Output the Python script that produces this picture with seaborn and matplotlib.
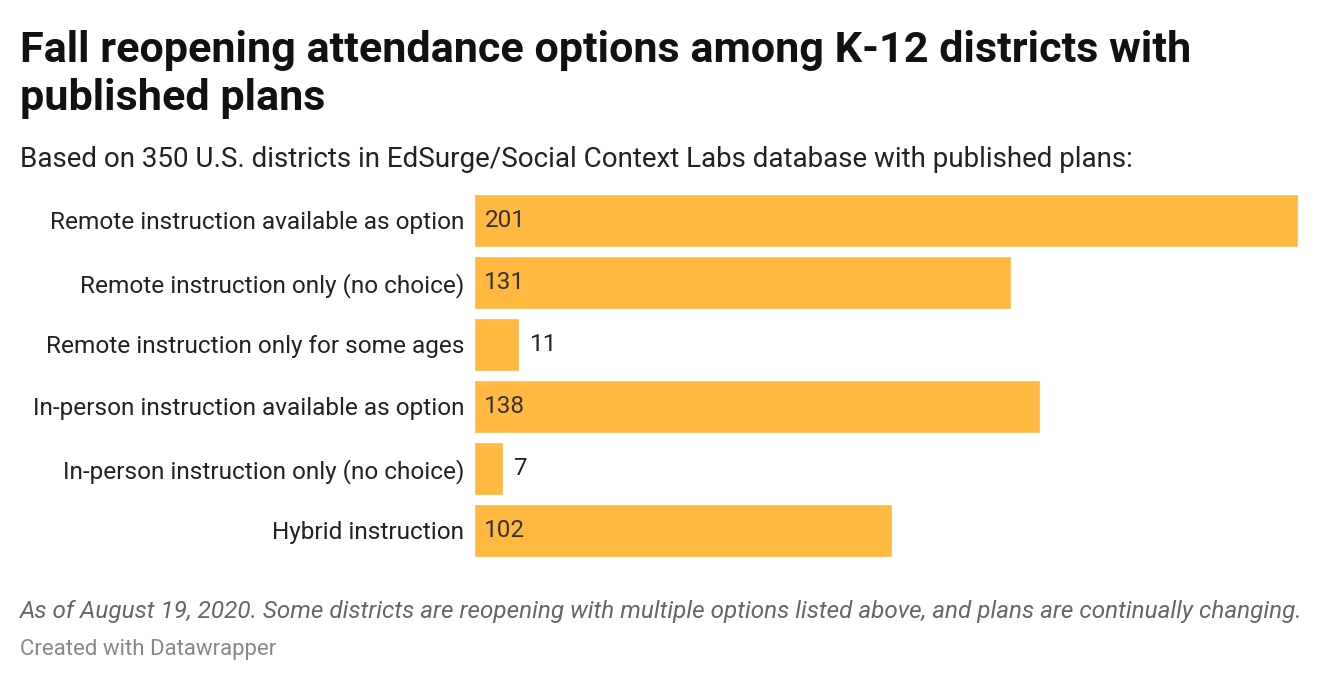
import matplotlib
matplotlib.use('Agg')
import matplotlib.pyplot as plt
import seaborn as sns
import pandas as pd

# Данные
categories = [
    'Remote instruction available as option',
    'Remote instruction only (no choice)',
    'Remote instruction only for some ages',
    'In-person instruction available as option',
    'In-person instruction only (no choice)',
    'Hybrid instruction',
]
counts = [201, 131, 11, 138, 7, 102]

df = pd.DataFrame({'category': categories, 'count': counts})

sns.set_theme(style='white')
plt.rcParams['font.family'] = ['Roboto', 'DejaVu Sans']

W, H = 1320, 682
fig = plt.figure(figsize=(W / 100, H / 100), dpi=100)
ax = fig.add_axes([474 / W, 1 - 561.5 / H, 824 / W, 372 / H])

sns.barplot(data=df, x='count', y='category', orient='h', color='#FFB840',
            width=53 / 62, saturation=1, ax=ax)

ax.set_xlim(0, 201)
ax.set_ylim(len(categories) - 0.5, -0.5)
ax.set_xlabel('')
ax.set_ylabel('')
ax.set_xticks([])
ax.tick_params(axis='y', length=0, pad=7, labelsize=17.6, labelcolor='#222222')
sns.despine(ax=ax, left=True, bottom=True, top=True, right=True)

# Подписи значений
for i, v in enumerate(counts):
    if v > 20:
        ax.annotate(str(v), (0, i), xytext=(7.5, 0), textcoords='offset points',
                    va='center', ha='left', fontsize=17.5, color='#333333')
    else:
        ax.annotate(str(v), (v, i), xytext=(7.5, 0), textcoords='offset points',
                    va='center', ha='left', fontsize=17.5, color='#222222')

# Заголовки и подписи
fig.text(20 / W, 1 - 62 / H, 'Fall reopening attendance options among K-12 districts with',
         fontsize=31.1, fontweight='bold', color='#111111', va='baseline')
fig.text(20 / W, 1 - 110 / H, 'published plans',
         fontsize=31.1, fontweight='bold', color='#111111', va='baseline')
fig.text(20 / W, 1 - 167 / H,
         'Based on 350 U.S. districts in EdSurge/Social Context Labs database with published plans:',
         fontsize=20, color='#222222', va='baseline')
fig.text(20 / W, 1 - 618 / H,
         'As of August 19, 2020. Some districts are reopening with multiple options listed above, and plans are continually changing.',
         fontsize=17.5, style='italic', color='#666666', va='baseline')
fig.text(20 / W, 1 - 655 / H, 'Created with Datawrapper',
         fontsize=16, color='#888888', va='baseline')

fig.savefig('out.png', dpi=100)
